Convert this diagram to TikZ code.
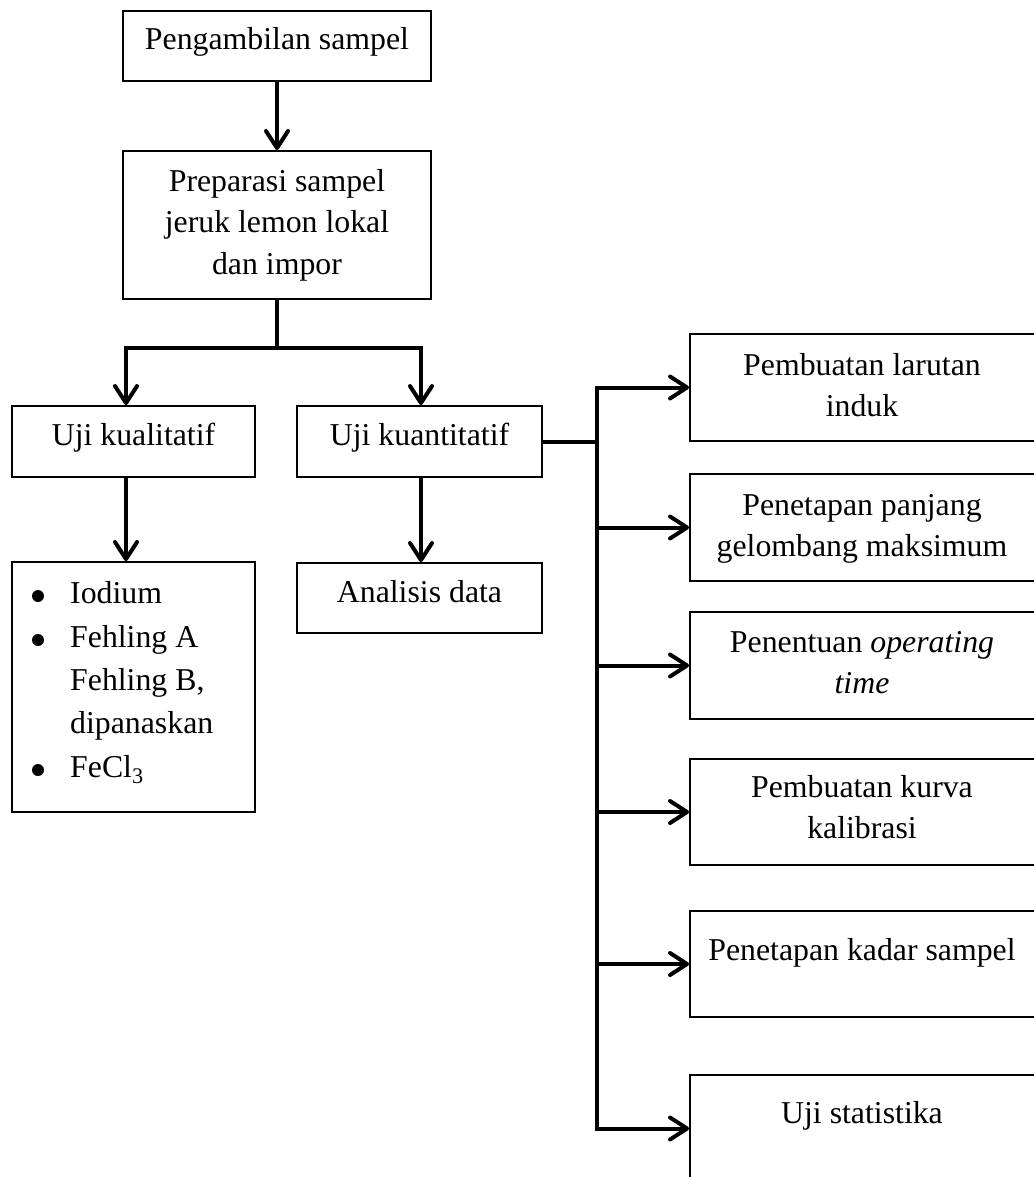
\documentclass[tikz,border=0pt]{standalone}
\usepackage{fontspec}
\setmainfont{Liberation Serif}
\usetikzlibrary{arrows.meta}
\newcommand{\mlines}[1]{\begin{tabular}[t]{@{}c@{}}#1\end{tabular}}
\begin{document}
\begin{tikzpicture}[x=1pt,y=-1pt,
  box/.style={draw, line width=1.9pt, rectangle, inner sep=0pt},
  txt/.style={anchor=base, inner sep=0pt, font=\fontsize{31.8pt}{41.5pt}\selectfont},
  ltxt/.style={txt, anchor=base west},
  bul/.style={circle, fill, inner sep=0pt, minimum size=12pt},
  ln/.style={line width=4pt, line cap=rect},
  arr/.style={line width=4pt, -{Straight Barb[length=17pt,width=22pt,round]}}]
\useasboundingbox (0,0) rectangle (1033,1177);
\fill[white] (0,0) rectangle (1033,1177);

% left column boxes
\node[box, minimum width=308pt, minimum height=70pt]  (b1) at (277,46) {};
\node[box, minimum width=308pt, minimum height=148pt] (b2) at (277,225) {};
\node[box, minimum width=243pt, minimum height=71pt]  (uk1) at (133.5,441.5) {};
\node[box, minimum width=245pt, minimum height=71pt]  (uk2) at (419.5,441.5) {};
\node[box, minimum width=243pt, minimum height=250pt] (bl) at (133.5,687) {};
\node[box, minimum width=245pt, minimum height=70pt]  (ad) at (419.5,598) {};

% right column boxes (right side runs past the page edge)
\node[box, minimum width=352pt, minimum height=107pt] (r1) at (866,387.5) {};
\node[box, minimum width=352pt, minimum height=107pt] (r2) at (866,527.5) {};
\node[box, minimum width=352pt, minimum height=107pt] (r3) at (866,665.5) {};
\node[box, minimum width=352pt, minimum height=106pt] (r4) at (866,812) {};
\node[box, minimum width=352pt, minimum height=106pt] (r5) at (866,964) {};
\node[box, minimum width=352pt, minimum height=107pt] (r6) at (866,1128.5) {};

% texts
\node[txt] (t1) at (277,50) {Pengambilan sampel};
\node[txt] (t2) at (277,191) {\mlines{Preparasi sampel\\ jeruk lemon lokal\\ dan impor}};
\node[txt] (t3) at (133.5,445) {Uji kualitatif};
\node[txt] (t4) at (419.5,445) {Uji kuantitatif};
\node[txt] (t5) at (419.5,602) {Analisis data};

\node[bul] (d1) at (38,596) {};
\node[bul] (d2) at (38,640) {};
\node[bul] (d3) at (38,770) {};
\node[ltxt] (l1) at (70,603) {Iodium};
\node[ltxt] (l2) at (70,647) {Fehling A};
\node[ltxt] (l3) at (70,690) {Fehling B,};
\node[ltxt] (l4) at (70,733) {dipanaskan};
\node[ltxt] (l5) at (70,777) {FeCl\textsubscript{3}};

\node[txt] (s1) at (862,375) {\mlines{Pembuatan larutan\\ induk}};
\node[txt] (s2) at (862,515) {\mlines{Penetapan panjang\\ gelombang maksimum}};
\node[txt] (s3) at (862,652) {\mlines{Penentuan \textit{operating}\\ \textit{time}}};
\node[txt] (s4) at (862,797) {\mlines{Pembuatan kurva\\ kalibrasi}};
\node[txt] (s5) at (862,960) {Penetapan kadar sampel};
\node[txt] (s6) at (862,1123) {Uji statistika};

% connectors
\draw[arr] (b1.south) -- (b2.north);
\coordinate (jm) at (277,348);
\coordinate (jl) at (126,348);
\coordinate (jr) at (421,348);
\draw[ln] (b2.south) -- (jm);
\draw[ln] (jl) -- (jr);
\draw[arr] (jl) -- (jl |- uk1.north);
\draw[arr] (jr) -- (jr |- uk2.north);
\draw[arr] (jl |- uk1.south) -- (jl |- bl.north);
\draw[arr] (jr |- uk2.south) -- (jr |- ad.north);

\coordinate (vm) at (597,441.5);
\coordinate (vt) at (597,387.5);
\coordinate (vb) at (597,1128.5);
\draw[ln] (uk2.east) -- (vm);
\draw[ln] (vt) -- (vb);
\draw[arr] (vt |- r1.west) -- (r1.west);
\draw[arr] (vt |- r2.west) -- (r2.west);
\draw[arr] (vt |- r3.west) -- (r3.west);
\draw[arr] (vt |- r4.west) -- (r4.west);
\draw[arr] (vt |- r5.west) -- (r5.west);
\draw[arr] (vt |- r6.west) -- (r6.west);
\end{tikzpicture}
\end{document}
